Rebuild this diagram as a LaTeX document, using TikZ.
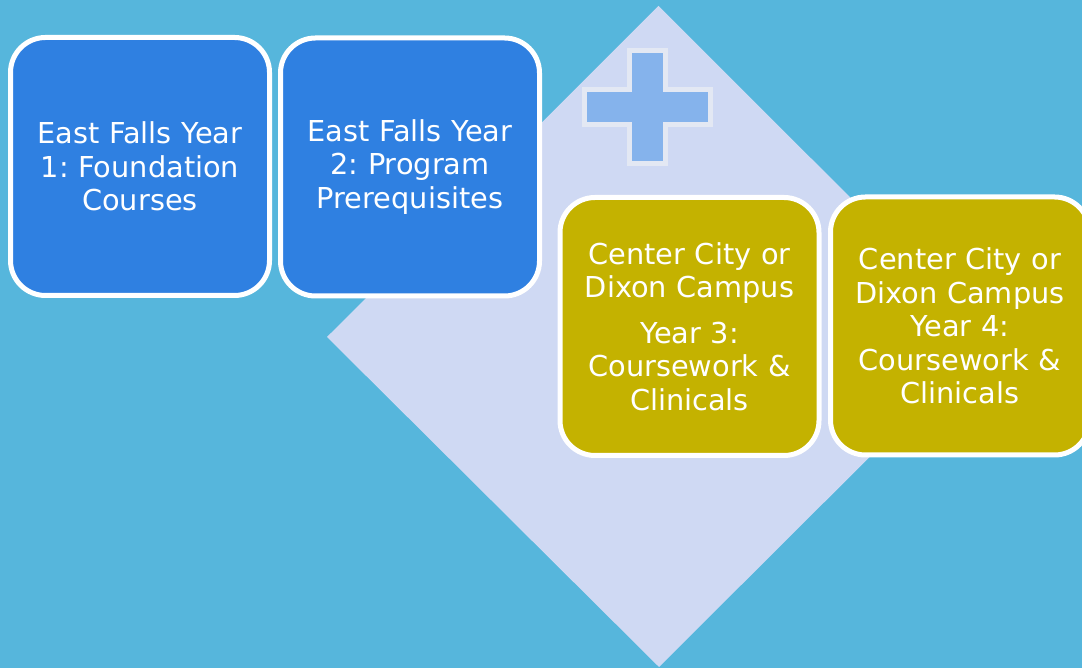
\documentclass[tikz,border=0pt]{standalone}
\usepackage{fontspec}
\setmainfont{DejaVu Sans}
\usepackage{tikz}
\usetikzlibrary{calc,positioning}
\frenchspacing

\definecolor{skyColor}{RGB}{86,182,220}
\definecolor{diamondColor}{RGB}{207,217,243}
\definecolor{plusColor}{RGB}{133,179,236}
\definecolor{plusEdge}{RGB}{227,232,243}
\definecolor{blueBox}{RGB}{47,128,225}
\definecolor{oliveBox}{RGB}{196,178,0}

\tikzset{
  yearbox/.style={draw=white,line width=5pt,rounded corners=35pt,
    minimum width=259pt,minimum height=258pt,inner sep=0pt,
    text=white,align=center,text width=250pt,
    font=\fontsize{28.8}{33.5}\selectfont},
  eastbox/.style={yearbox,fill=blueBox},
  citybox/.style={yearbox,fill=oliveBox}
}

\begin{document}
\begin{tikzpicture}[x=1pt,y=1pt]
\path[use as bounding box,fill=skyColor] (0,0) rectangle (1082,668);
\clip (0,0) rectangle (1082,668);

% diamond behind the last two years
\path[fill=diamondColor] (658.5,662) -- (990,331) -- (659,1) -- (327,331) -- cycle;

% plus sign
\path[fill=plusColor,draw=plusEdge,line width=5pt]
  (629.5,617.5) -- (665.5,617.5) -- (665.5,578.5) -- (710.5,578.5) --
  (710.5,543.5) -- (665.5,543.5) -- (665.5,504.5) -- (629.5,504.5) --
  (629.5,543.5) -- (584.5,543.5) -- (584.5,578.5) -- (629.5,578.5) -- cycle;

\node[eastbox] (yearone) at (140,501.5) {East Falls Year\\1: Foundation\\Courses};
\node[eastbox] (yeartwo) at (410,501) {East Falls Year\\2: Program\\Prerequisites};
\node[citybox] (yearthree) at (689.5,341.5) {Center City or\\Dixon Campus\\[12pt]Year 3:\\Coursework \&\\Clinicals};
\node[citybox] (yearfour) at (960,342) {Center City or\\Dixon Campus\\Year 4:\\Coursework \&\\Clinicals};
\end{tikzpicture}
\end{document}
